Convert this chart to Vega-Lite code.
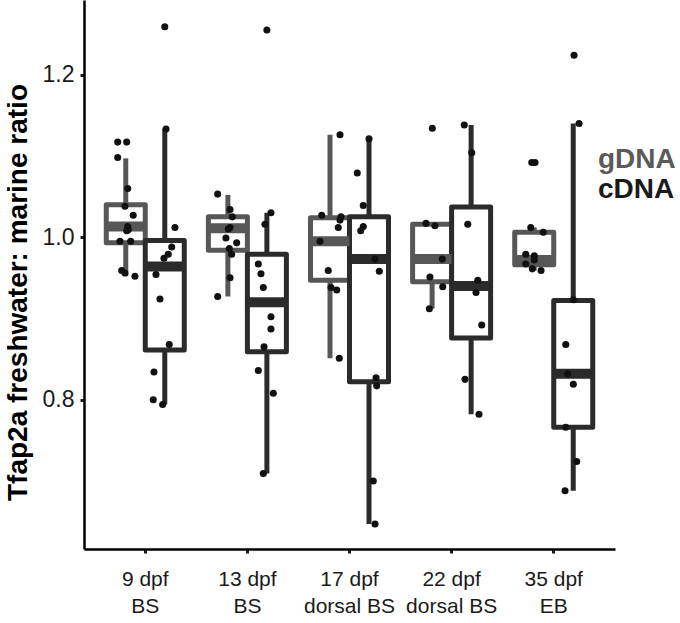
{
  "$schema": "https://vega.github.io/schema/vega-lite/v6.json",
  "autosize": "none",
  "width": 531,
  "height": 549,
  "padding": {"left": 84, "top": 0, "right": 65, "bottom": 74},
  "background": "white",
  "config": {
    "font": "Liberation Sans",
    "view": {"stroke": null},
    "axis": {"grid": false}
  },
  "datasets": {
    "boxes": [
      {"group": "9 dpf BS", "type": "gDNA", "lo": 0.952, "q1": 0.993, "med": 1.013, "q3": 1.040, "hi": 1.097},
      {"group": "9 dpf BS", "type": "cDNA", "lo": 0.794, "q1": 0.861, "med": 0.964, "q3": 0.996, "hi": 1.133},
      {"group": "13 dpf BS", "type": "gDNA", "lo": 0.927, "q1": 0.984, "med": 1.011, "q3": 1.025, "hi": 1.052},
      {"group": "13 dpf BS", "type": "cDNA", "lo": 0.709, "q1": 0.859, "med": 0.920, "q3": 0.979, "hi": 1.030},
      {"group": "17 dpf dorsal BS", "type": "gDNA", "lo": 0.851, "q1": 0.947, "med": 0.995, "q3": 1.024, "hi": 1.126},
      {"group": "17 dpf dorsal BS", "type": "cDNA", "lo": 0.647, "q1": 0.822, "med": 0.973, "q3": 1.025, "hi": 1.121},
      {"group": "22 dpf dorsal BS", "type": "gDNA", "lo": 0.912, "q1": 0.945, "med": 0.973, "q3": 1.016, "hi": 1.017},
      {"group": "22 dpf dorsal BS", "type": "cDNA", "lo": 0.782, "q1": 0.876, "med": 0.940, "q3": 1.037, "hi": 1.138},
      {"group": "35 dpf EB", "type": "gDNA", "lo": 0.959, "q1": 0.966, "med": 0.972, "q3": 1.006, "hi": 1.012},
      {"group": "35 dpf EB", "type": "cDNA", "lo": 0.688, "q1": 0.766, "med": 0.832, "q3": 0.922, "hi": 1.140}
    ],
    "points": [
      {"group": "9 dpf BS", "type": "gDNA", "value": 1.117, "jitter": -0.079},
      {"group": "9 dpf BS", "type": "gDNA", "value": 1.117, "jitter": 0.009},
      {"group": "9 dpf BS", "type": "gDNA", "value": 1.098, "jitter": -0.079},
      {"group": "9 dpf BS", "type": "gDNA", "value": 1.060, "jitter": 0.019},
      {"group": "9 dpf BS", "type": "gDNA", "value": 1.038, "jitter": -0.008},
      {"group": "9 dpf BS", "type": "gDNA", "value": 1.027, "jitter": 0.073},
      {"group": "9 dpf BS", "type": "gDNA", "value": 1.013, "jitter": 0.019},
      {"group": "9 dpf BS", "type": "gDNA", "value": 1.009, "jitter": 0.024},
      {"group": "9 dpf BS", "type": "gDNA", "value": 1.008, "jitter": 0.009},
      {"group": "9 dpf BS", "type": "gDNA", "value": 0.995, "jitter": -0.057},
      {"group": "9 dpf BS", "type": "gDNA", "value": 0.995, "jitter": 0.048},
      {"group": "9 dpf BS", "type": "gDNA", "value": 0.959, "jitter": -0.040},
      {"group": "9 dpf BS", "type": "gDNA", "value": 0.956, "jitter": -0.008},
      {"group": "9 dpf BS", "type": "gDNA", "value": 0.952, "jitter": 0.090},
      {"group": "9 dpf BS", "type": "cDNA", "value": 1.259, "jitter": 0.000},
      {"group": "9 dpf BS", "type": "cDNA", "value": 1.133, "jitter": 0.012},
      {"group": "9 dpf BS", "type": "cDNA", "value": 1.012, "jitter": 0.100},
      {"group": "9 dpf BS", "type": "cDNA", "value": 0.988, "jitter": 0.068},
      {"group": "9 dpf BS", "type": "cDNA", "value": 0.979, "jitter": 0.034},
      {"group": "9 dpf BS", "type": "cDNA", "value": 0.974, "jitter": -0.008},
      {"group": "9 dpf BS", "type": "cDNA", "value": 0.954, "jitter": -0.086},
      {"group": "9 dpf BS", "type": "cDNA", "value": 0.924, "jitter": -0.047},
      {"group": "9 dpf BS", "type": "cDNA", "value": 0.868, "jitter": 0.044},
      {"group": "9 dpf BS", "type": "cDNA", "value": 0.834, "jitter": -0.106},
      {"group": "9 dpf BS", "type": "cDNA", "value": 0.800, "jitter": -0.113},
      {"group": "9 dpf BS", "type": "cDNA", "value": 0.794, "jitter": -0.021},
      {"group": "13 dpf BS", "type": "gDNA", "value": 1.053, "jitter": -0.100},
      {"group": "13 dpf BS", "type": "gDNA", "value": 1.034, "jitter": 0.021},
      {"group": "13 dpf BS", "type": "gDNA", "value": 1.025, "jitter": 0.043},
      {"group": "13 dpf BS", "type": "gDNA", "value": 1.012, "jitter": 0.021},
      {"group": "13 dpf BS", "type": "gDNA", "value": 1.010, "jitter": 0.004},
      {"group": "13 dpf BS", "type": "gDNA", "value": 0.999, "jitter": -0.019},
      {"group": "13 dpf BS", "type": "gDNA", "value": 0.993, "jitter": 0.086},
      {"group": "13 dpf BS", "type": "gDNA", "value": 0.986, "jitter": 0.014},
      {"group": "13 dpf BS", "type": "gDNA", "value": 0.979, "jitter": 0.037},
      {"group": "13 dpf BS", "type": "gDNA", "value": 0.950, "jitter": 0.021},
      {"group": "13 dpf BS", "type": "gDNA", "value": 0.927, "jitter": -0.100},
      {"group": "13 dpf BS", "type": "cDNA", "value": 1.255, "jitter": 0.000},
      {"group": "13 dpf BS", "type": "cDNA", "value": 1.030, "jitter": 0.040},
      {"group": "13 dpf BS", "type": "cDNA", "value": 1.016, "jitter": -0.019},
      {"group": "13 dpf BS", "type": "cDNA", "value": 0.967, "jitter": -0.084},
      {"group": "13 dpf BS", "type": "cDNA", "value": 0.955, "jitter": -0.058},
      {"group": "13 dpf BS", "type": "cDNA", "value": 0.938, "jitter": -0.035},
      {"group": "13 dpf BS", "type": "cDNA", "value": 0.902, "jitter": 0.040},
      {"group": "13 dpf BS", "type": "cDNA", "value": 0.887, "jitter": 0.040},
      {"group": "13 dpf BS", "type": "cDNA", "value": 0.865, "jitter": -0.028},
      {"group": "13 dpf BS", "type": "cDNA", "value": 0.836, "jitter": -0.084},
      {"group": "13 dpf BS", "type": "cDNA", "value": 0.808, "jitter": 0.063},
      {"group": "13 dpf BS", "type": "cDNA", "value": 0.709, "jitter": -0.035},
      {"group": "17 dpf dorsal BS", "type": "gDNA", "value": 1.126, "jitter": 0.098},
      {"group": "17 dpf dorsal BS", "type": "gDNA", "value": 1.027, "jitter": -0.081},
      {"group": "17 dpf dorsal BS", "type": "gDNA", "value": 1.025, "jitter": 0.108},
      {"group": "17 dpf dorsal BS", "type": "gDNA", "value": 1.021, "jitter": 0.098},
      {"group": "17 dpf dorsal BS", "type": "gDNA", "value": 1.012, "jitter": 0.081},
      {"group": "17 dpf dorsal BS", "type": "gDNA", "value": 0.995, "jitter": -0.098},
      {"group": "17 dpf dorsal BS", "type": "gDNA", "value": 0.959, "jitter": -0.017},
      {"group": "17 dpf dorsal BS", "type": "gDNA", "value": 0.938, "jitter": 0.010},
      {"group": "17 dpf dorsal BS", "type": "gDNA", "value": 0.935, "jitter": 0.066},
      {"group": "17 dpf dorsal BS", "type": "gDNA", "value": 0.851, "jitter": 0.091},
      {"group": "17 dpf dorsal BS", "type": "cDNA", "value": 1.121, "jitter": 0.000},
      {"group": "17 dpf dorsal BS", "type": "cDNA", "value": 1.079, "jitter": -0.115},
      {"group": "17 dpf dorsal BS", "type": "cDNA", "value": 1.039, "jitter": -0.056},
      {"group": "17 dpf dorsal BS", "type": "cDNA", "value": 1.013, "jitter": -0.056},
      {"group": "17 dpf dorsal BS", "type": "cDNA", "value": 1.008, "jitter": -0.081},
      {"group": "17 dpf dorsal BS", "type": "cDNA", "value": 0.973, "jitter": 0.059},
      {"group": "17 dpf dorsal BS", "type": "cDNA", "value": 0.958, "jitter": 0.101},
      {"group": "17 dpf dorsal BS", "type": "cDNA", "value": 0.827, "jitter": 0.069},
      {"group": "17 dpf dorsal BS", "type": "cDNA", "value": 0.817, "jitter": 0.075},
      {"group": "17 dpf dorsal BS", "type": "cDNA", "value": 0.700, "jitter": 0.042},
      {"group": "17 dpf dorsal BS", "type": "cDNA", "value": 0.647, "jitter": 0.059},
      {"group": "22 dpf dorsal BS", "type": "gDNA", "value": 1.134, "jitter": 0.002},
      {"group": "22 dpf dorsal BS", "type": "gDNA", "value": 1.017, "jitter": -0.060},
      {"group": "22 dpf dorsal BS", "type": "gDNA", "value": 1.014, "jitter": 0.028},
      {"group": "22 dpf dorsal BS", "type": "gDNA", "value": 0.973, "jitter": 0.100},
      {"group": "22 dpf dorsal BS", "type": "gDNA", "value": 0.951, "jitter": -0.021},
      {"group": "22 dpf dorsal BS", "type": "gDNA", "value": 0.939, "jitter": 0.104},
      {"group": "22 dpf dorsal BS", "type": "gDNA", "value": 0.912, "jitter": -0.027},
      {"group": "22 dpf dorsal BS", "type": "cDNA", "value": 1.138, "jitter": -0.067},
      {"group": "22 dpf dorsal BS", "type": "cDNA", "value": 1.104, "jitter": 0.006},
      {"group": "22 dpf dorsal BS", "type": "cDNA", "value": 1.016, "jitter": -0.033},
      {"group": "22 dpf dorsal BS", "type": "cDNA", "value": 0.947, "jitter": 0.065},
      {"group": "22 dpf dorsal BS", "type": "cDNA", "value": 0.932, "jitter": 0.048},
      {"group": "22 dpf dorsal BS", "type": "cDNA", "value": 0.892, "jitter": 0.104},
      {"group": "22 dpf dorsal BS", "type": "cDNA", "value": 0.825, "jitter": -0.060},
      {"group": "22 dpf dorsal BS", "type": "cDNA", "value": 0.782, "jitter": 0.077},
      {"group": "35 dpf EB", "type": "gDNA", "value": 1.092, "jitter": -0.024},
      {"group": "35 dpf EB", "type": "gDNA", "value": 1.092, "jitter": 0.008},
      {"group": "35 dpf EB", "type": "gDNA", "value": 1.012, "jitter": -0.034},
      {"group": "35 dpf EB", "type": "gDNA", "value": 1.006, "jitter": 0.089},
      {"group": "35 dpf EB", "type": "gDNA", "value": 0.979, "jitter": -0.083},
      {"group": "35 dpf EB", "type": "gDNA", "value": 0.977, "jitter": 0.001},
      {"group": "35 dpf EB", "type": "gDNA", "value": 0.972, "jitter": 0.001},
      {"group": "35 dpf EB", "type": "gDNA", "value": 0.967, "jitter": -0.083},
      {"group": "35 dpf EB", "type": "gDNA", "value": 0.961, "jitter": -0.019},
      {"group": "35 dpf EB", "type": "gDNA", "value": 0.959, "jitter": 0.067},
      {"group": "35 dpf EB", "type": "cDNA", "value": 1.224, "jitter": 0.008},
      {"group": "35 dpf EB", "type": "cDNA", "value": 1.140, "jitter": 0.057},
      {"group": "35 dpf EB", "type": "cDNA", "value": 0.923, "jitter": 0.001},
      {"group": "35 dpf EB", "type": "cDNA", "value": 0.868, "jitter": -0.073},
      {"group": "35 dpf EB", "type": "cDNA", "value": 0.832, "jitter": -0.054},
      {"group": "35 dpf EB", "type": "cDNA", "value": 0.819, "jitter": 0.001},
      {"group": "35 dpf EB", "type": "cDNA", "value": 0.766, "jitter": -0.073},
      {"group": "35 dpf EB", "type": "cDNA", "value": 0.724, "jitter": 0.034},
      {"group": "35 dpf EB", "type": "cDNA", "value": 0.688, "jitter": -0.080}
    ]
  },
  "encoding": {
    "x": {
      "field": "group",
      "type": "nominal",
      "scale": {
        "domain": ["9 dpf BS", "13 dpf BS", "17 dpf dorsal BS", "22 dpf dorsal BS", "35 dpf EB"],
        "paddingInner": 0,
        "paddingOuter": 0.1
      },
      "axis": {
        "title": null,
        "labelAngle": 0,
        "labelExpr": "[substring(datum.label, 0, indexof(datum.label, 'dpf') + 3), substring(datum.label, indexof(datum.label, 'dpf') + 4)]",
        "labelFontSize": 21,
        "labelColor": "#1a1a1a",
        "labelLineHeight": 27,
        "labelPadding": 15,
        "domainColor": "#000000",
        "domainWidth": 2.5,
        "tickColor": "#1a1a1a",
        "tickSize": 4,
        "tickWidth": 3
      }
    }
  },
  "layer": [
    {
      "data": {"name": "boxes"},
      "mark": {"type": "rule", "strokeWidth": 5},
      "encoding": {
        "xOffset": {"field": "type", "type": "nominal", "scale": {"domain": ["gDNA", "cDNA"], "paddingInner": 0, "paddingOuter": 0.309}},
        "y": {
          "field": "lo",
          "type": "quantitative",
          "scale": {"domain": [0.6162, 1.2919], "nice": false, "zero": false},
          "axis": {
            "title": "Tfap2a freshwater: marine ratio",
            "titleFontSize": 28,
            "titleFontWeight": "bold",
            "titleColor": "#000000",
            "titlePadding": 10,
            "titleY": 292,
            "values": [0.8, 1.0, 1.2],
            "format": ".1f",
            "labelFontSize": 23,
            "labelColor": "#1a1a1a",
            "labelPadding": 6,
            "domainColor": "#000000",
            "domainWidth": 2.5,
            "tickColor": "#1a1a1a",
            "tickSize": 4,
            "tickWidth": 3
          }
        },
        "y2": {"field": "hi"},
        "color": {
          "field": "type",
          "type": "nominal",
          "scale": {"domain": ["gDNA", "cDNA"], "range": ["#575757", "#2b2b2b"]},
          "legend": {
            "title": null,
            "orient": "none",
            "legendX": 486,
            "legendY": 146,
            "symbolSize": 0,
            "symbolOpacity": 0,
            "symbolStrokeWidth": 0,
            "labelOffset": 0,
            "labelFontSize": 28,
            "labelFontWeight": "bold",
            "labelColor": {"expr": "datum.label === 'gDNA' ? '#5a5a5a' : '#1a1a1a'"},
            "rowPadding": 2
          }
        }
      }
    },
    {
      "data": {"name": "boxes"},
      "mark": {"type": "bar", "fill": "white", "strokeWidth": 5, "strokeJoin": "round"},
      "encoding": {
        "xOffset": {"field": "type", "type": "nominal", "scale": {"domain": ["gDNA", "cDNA"], "paddingInner": 0, "paddingOuter": 0.309}},
        "y": {"field": "q1", "type": "quantitative"},
        "y2": {"field": "q3"},
        "stroke": {"field": "type", "type": "nominal", "scale": {"domain": ["gDNA", "cDNA"], "range": ["#575757", "#2b2b2b"]}, "legend": null}
      }
    },
    {
      "data": {"name": "boxes"},
      "mark": {"type": "tick", "thickness": 10, "size": 39, "orient": "horizontal", "opacity": 1},
      "encoding": {
        "xOffset": {"field": "type", "type": "nominal", "scale": {"domain": ["gDNA", "cDNA"], "paddingInner": 0, "paddingOuter": 0.309}},
        "y": {"field": "med", "type": "quantitative"},
        "color": {"field": "type", "type": "nominal"}
      }
    },
    {
      "mark": {"type": "rule", "strokeDash": [8, 8], "strokeWidth": 2.5, "color": "#222222"},
      "encoding": {"y": {"datum": 1, "type": "quantitative"}}
    },
    {
      "data": {"name": "points"},
      "transform": [
        {"calculate": "(datum.type === 'gDNA' ? -0.191 : 0.191) + datum.jitter", "as": "offset"}
      ],
      "mark": {"type": "circle", "size": 50, "opacity": 1, "color": "#111111"},
      "encoding": {
        "xOffset": {"field": "offset", "type": "quantitative", "scale": {"domain": [-0.5, 0.5]}},
        "y": {"field": "value", "type": "quantitative"}
      }
    }
  ],
  "resolve": {"scale": {"xOffset": "independent"}}
}
